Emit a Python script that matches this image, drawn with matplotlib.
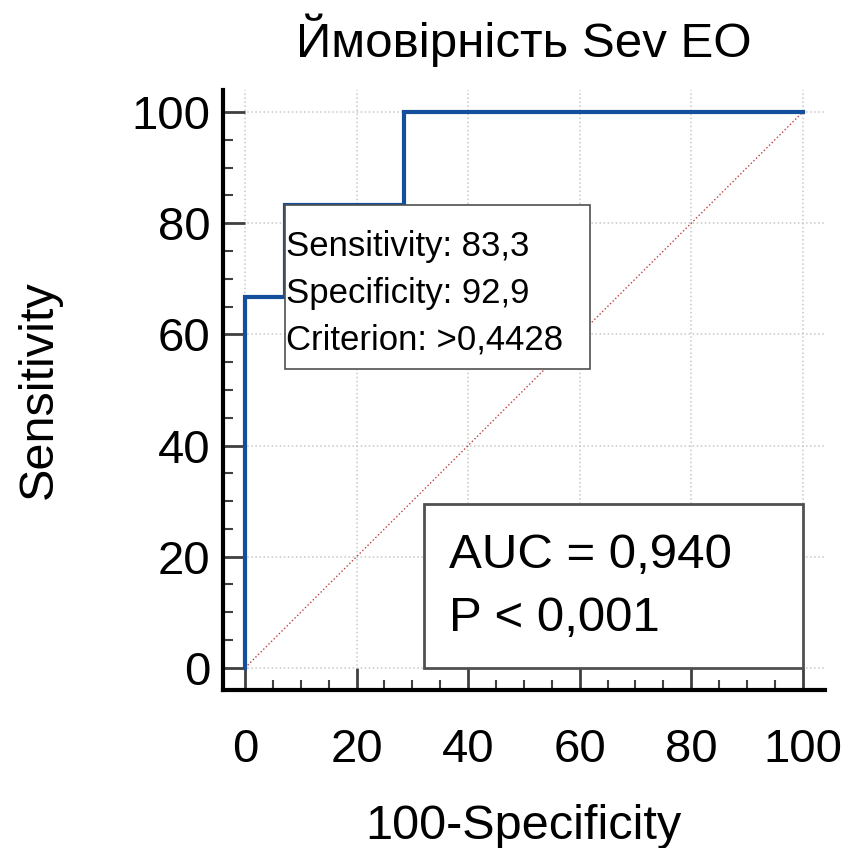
import matplotlib
matplotlib.use("Agg")
import matplotlib.pyplot as plt
from matplotlib.ticker import MultipleLocator
from matplotlib.patches import Rectangle

plt.rcParams['font.family'] = ['Liberation Sans', 'DejaVu Sans']

# ROC data
fpr = [0, 0, 7.14, 7.14, 28.57, 28.57, 100]
tpr = [0, 66.7, 66.7, 83.3, 83.3, 100, 100]
title = "Ймовірність Sev EO"
xlabel = "100-Specificity"
ylabel = "Sensitivity"
ticks = [0, 20, 40, 60, 80, 100]
point_text = "Sensitivity: 83,3\nSpecificity: 92,9\nCriterion: >0,4428"
point = (7.14, 83.3)
auc_text = "AUC = 0,940\nP < 0,001"

fig = plt.figure(figsize=(8.47, 8.48), dpi=100)
ax = fig.add_axes([0.263, 0.1863, 0.711, 0.7077])

ax.set_xlim(-4, 104)
ax.set_ylim(-4, 104)
ax.grid(True, which='major', color='#c8c8c8', linestyle=':', linewidth=1.1)
ax.set_axisbelow(True)

ax.plot([0, 100], [0, 100], color='#c04040', linestyle=':', linewidth=1.0, zorder=2)
ax.plot(fpr, tpr, color='#144f9c', linewidth=3, zorder=3, solid_joinstyle='miter')

for s in ['top', 'right']:
    ax.spines[s].set_visible(False)
for s in ['left', 'bottom']:
    ax.spines[s].set_linewidth(3)
    ax.spines[s].set_color('black')

ax.set_xticks(ticks)
ax.set_yticks(ticks)
ax.xaxis.set_minor_locator(MultipleLocator(5))
ax.yaxis.set_minor_locator(MultipleLocator(5))
ax.tick_params(which='major', direction='in', length=16, width=2, color='#404040',
               labelsize=34)
ax.tick_params(which='minor', direction='in', length=7.5, width=1.5, color='#404040')
ax.tick_params(axis='x', which='major', pad=27)
ax.tick_params(axis='y', which='major', pad=9)

ax.set_title(title, fontsize=35.5, pad=24)
ax.set_xlabel(xlabel, fontsize=35)
ax.set_ylabel(ylabel, fontsize=35)
ax.xaxis.set_label_coords(0.5, -0.227)
ax.xaxis.label.set_va('center')
ax.yaxis.set_label_coords(-0.304, 0.5)
ax.yaxis.label.set_va('center')

# Criterion box
ax.add_patch(Rectangle((point[0], 53.7), 54.7, point[1] - 53.7, facecolor='white',
                       edgecolor='#505050', linewidth=1.2, zorder=4))
ax.text(point[0] + 0.2, 67.4, point_text, fontsize=25, va='center', ha='left',
        linespacing=1.52, zorder=5)

# AUC box
ax.add_patch(Rectangle((32.0, 0), 68.0, 29.5, facecolor='white', edgecolor='#505050',
                       linewidth=2, zorder=4))
ax.text(36.6, 14.6, auc_text, fontsize=35.5, va='center', ha='left', linespacing=1.52, zorder=5)

fig.savefig('out.png', dpi=100)
